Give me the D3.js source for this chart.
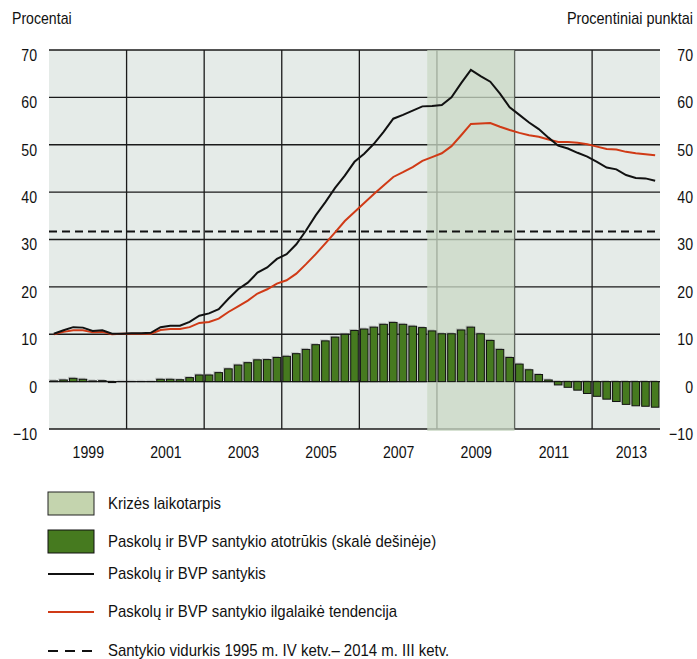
<!DOCTYPE html>
<html>
<head>
<meta charset="utf-8">
<script src="https://cdn.jsdelivr.net/npm/d3@7"></script>
<style>
  body { margin: 0; background: #fff; }
  svg { display: block; font-family: "Liberation Sans", Arial, sans-serif; }
  .tick text { font-size: 17px; fill: #111; }
</style>
</head>
<body>
<div id="chart"></div>
<script>
// quarterly data, 1999 I ketv. .. 2014 III ketv.
var startYear = 1999;
var gapBars = [0.15, 0.35, 0.7, 0.5, 0.15, 0.2, -0.2, 0.05, 0.05, 0.05, 0.05, 0.5, 0.5, 0.4, 0.85, 1.4,
  1.4, 1.9, 2.7, 3.5, 4.0, 4.6, 4.65, 5.1, 5.35, 5.9, 6.8, 7.8, 8.6, 9.4, 10.0, 10.8,
  11.1, 11.5, 12.1, 12.5, 12.1, 11.7, 11.4, 10.7, 10.1, 10.1, 10.9, 11.5, 10.1, 8.7, 6.8, 5.1,
  3.7, 2.5, 1.5, 0.35, -0.7, -1.2, -1.8, -2.5, -3.1, -3.7, -4.2, -4.8, -5.1, -5.2, -5.4];
var ratio = [10.1, 10.85, 11.5, 11.4, 10.7, 10.85, 10.1, 10.1, 10.2, 10.2, 10.3, 11.5, 11.8, 11.8, 12.6, 13.9,
  14.4, 15.3, 17.5, 19.5, 20.9, 23.0, 24.1, 25.9, 26.9, 29.0, 31.9, 35.1, 37.9, 40.9, 43.5, 46.4,
  48.1, 50.2, 52.7, 55.5, 56.3, 57.2, 58.1, 58.2, 58.4, 60.0, 63.0, 65.8, 64.5, 63.3, 60.8, 57.9,
  56.3, 54.7, 53.3, 51.5, 49.8, 49.2, 48.3, 47.5, 46.4, 45.2, 44.8, 43.6, 43.0, 42.9, 42.4];
var trend = [10.0, 10.5, 10.85, 10.85, 10.4, 10.5, 10.0, 10.1, 10.1, 10.1, 10.1, 10.9, 11.1, 11.1, 11.5, 12.4,
  12.6, 13.3, 14.7, 15.9, 17.1, 18.6, 19.5, 20.7, 21.4, 22.8, 24.8, 26.9, 29.2, 31.5, 33.9, 35.8,
  37.7, 39.6, 41.4, 43.2, 44.2, 45.3, 46.6, 47.4, 48.2, 49.7, 52.0, 54.4, 54.5, 54.6, 53.8, 53.1,
  52.5, 52.0, 51.7, 51.1, 50.6, 50.6, 50.4, 50.1, 49.6, 49.1, 49.0, 48.5, 48.2, 48.0, 47.8];
var averageRatio = 31.7;
var crisis = [2008.75, 2011.0];
var yearTicks = [1999, 2001, 2003, 2005, 2007, 2009, 2011, 2013];
var yTicks = [-10, 0, 10, 20, 30, 40, 50, 60, 70];
var legendLabels = [
  "Krizės laikotarpis",
  "Paskolų ir BVP santykio atotrūkis (skalė dešinėje)",
  "Paskolų ir BVP santykis",
  "Paskolų ir BVP santykio ilgalaikė tendencija",
  "Santykio vidurkis 1995 m. IV ketv.– 2014 m. III ketv."
];

var width = 697, height = 659;
var plotLeft = 49, plotRight = 660, plotTop = 50, plotBottom = 429;

var svg = d3.select("#chart").append("svg")
  .attr("width", width)
  .attr("height", height);

// condensed look: squeeze text horizontally
var squeeze = function(sel, k) {
  k = k || 0.83;
  sel.each(function() {
    var w = this.getComputedTextLength();
    d3.select(this).attr("textLength", w * k).attr("lengthAdjust", "spacingAndGlyphs");
  });
};

var x = d3.scaleLinear().domain([startYear, startYear + gapBars.length / 4]).range([plotLeft, plotRight]);
var y = d3.scaleLinear().domain([-10, 70]).range([plotBottom, plotTop]);
var qStart = function(i) { return startYear + i / 4; };
var qMid = function(i) { return startYear + (i + 0.5) / 4; };
var barW = (x(qStart(1)) - x(qStart(0))) * 0.78;

// plot background
svg.append("rect")
  .attr("x", plotLeft).attr("y", plotTop)
  .attr("width", plotRight - plotLeft).attr("height", plotBottom - plotTop)
  .attr("fill", "#e5ebe8");

// grid
svg.append("g").selectAll("line")
  .data(yTicks).enter().append("line")
  .attr("x1", plotLeft).attr("x2", plotRight)
  .attr("y1", function(d) { return y(d); }).attr("y2", function(d) { return y(d); })
  .attr("stroke", "#1a1a1a").attr("stroke-width", 1.3);
svg.append("g").selectAll("line")
  .data(yearTicks.slice(1)).enter().append("line")
  .attr("x1", function(d) { return x(d); }).attr("x2", function(d) { return x(d); })
  .attr("y1", plotTop).attr("y2", plotBottom)
  .attr("stroke", "#1a1a1a").attr("stroke-width", 1.3);

// crisis period
svg.append("rect")
  .attr("x", x(crisis[0])).attr("y", plotTop)
  .attr("width", x(crisis[1]) - x(crisis[0])).attr("height", plotBottom - plotTop + 2)
  .attr("fill", "rgb(203,217,197)").attr("fill-opacity", 0.76);

// bars (right scale, same range)
var bars = svg.append("g");
bars.selectAll(".shadow")
  .data(gapBars).enter().append("rect")
  .attr("class", "shadow")
  .attr("x", function(d, i) { return x(qMid(i)) - barW / 2 - 1.5; })
  .attr("y", function(d) { return Math.min(y(d), y(0)) - 1.5; })
  .attr("width", barW)
  .attr("height", function(d) { return Math.abs(y(d) - y(0)); })
  .attr("fill", "#777").attr("fill-opacity", 0.35);
bars.selectAll(".bar")
  .data(gapBars).enter().append("rect")
  .attr("class", "bar")
  .attr("x", function(d, i) { return x(qMid(i)) - barW / 2; })
  .attr("y", function(d) { return Math.min(y(d), y(0)); })
  .attr("width", barW)
  .attr("height", function(d) { return Math.abs(y(d) - y(0)); })
  .attr("fill", "#467a1f").attr("stroke", "#111").attr("stroke-width", 1);

// average dashed line
svg.append("line")
  .attr("x1", plotLeft).attr("x2", plotRight)
  .attr("y1", y(averageRatio)).attr("y2", y(averageRatio))
  .attr("stroke", "#111").attr("stroke-width", 2)
  .attr("stroke-dasharray", "8,5");

var line = d3.line()
  .x(function(d, i) { return x(qMid(i)); })
  .y(function(d) { return y(d); });

svg.append("path").datum(trend)
  .attr("d", line).attr("fill", "none")
  .attr("stroke", "#d03a16").attr("stroke-width", 2);
svg.append("path").datum(ratio)
  .attr("d", line).attr("fill", "none")
  .attr("stroke", "#111").attr("stroke-width", 2);

// axes
var yLeft = d3.axisLeft(y).tickValues(yTicks).tickSize(0).tickPadding(12);
svg.append("g").attr("transform", "translate(" + plotLeft + ",0)").call(yLeft)
  .call(function(g) { g.select(".domain").remove(); })
  .selectAll("text").attr("y", 5).call(squeeze);
var yRight = d3.axisRight(y).tickValues(yTicks).tickSize(0);
svg.append("g").attr("transform", "translate(" + plotRight + ",0)").call(yRight)
  .call(function(g) { g.select(".domain").remove(); })
  .selectAll("text").attr("x", 33).attr("y", 5).attr("text-anchor", "end").call(squeeze);

var xAxis = d3.axisBottom(x).tickValues(yearTicks.map(function(d) { return d + 1; }))
  .tickFormat(function(d) { return d - 1; }).tickSize(0).tickPadding(17);
svg.append("g").attr("transform", "translate(0," + plotBottom + ")").call(xAxis)
  .call(function(g) { g.select(".domain").remove(); })
  .selectAll("text").call(squeeze);

// unit labels
svg.append("text").attr("x", 12).attr("y", 24)
  .attr("font-size", 17).attr("fill", "#111").text("Procentai").call(squeeze);
svg.append("text").attr("x", 693).attr("y", 24).attr("text-anchor", "end")
  .attr("font-size", 17).attr("fill", "#111").text("Procentiniai punktai").call(squeeze, 0.85);

// legend
var legY = [504, 542, 574, 612, 651];
var leg = svg.append("g");
leg.append("rect").attr("x", 48).attr("y", legY[0] - 12).attr("width", 46).attr("height", 23)
  .attr("fill", "#c4d4ae").attr("stroke", "#222").attr("stroke-width", 1);
leg.append("rect").attr("x", 48).attr("y", legY[1] - 12).attr("width", 46).attr("height", 23)
  .attr("fill", "#467a1f").attr("stroke", "#111").attr("stroke-width", 1);
leg.append("line").attr("x1", 48).attr("x2", 94).attr("y1", legY[2]).attr("y2", legY[2])
  .attr("stroke", "#111").attr("stroke-width", 2);
leg.append("line").attr("x1", 48).attr("x2", 94).attr("y1", legY[3]).attr("y2", legY[3])
  .attr("stroke", "#d03a16").attr("stroke-width", 2);
leg.append("line").attr("x1", 48).attr("x2", 94).attr("y1", legY[4]).attr("y2", legY[4])
  .attr("stroke", "#111").attr("stroke-width", 2).attr("stroke-dasharray", "10,7");
leg.selectAll("text.leg")
  .data(legendLabels).enter().append("text")
  .attr("class", "leg")
  .attr("x", 108).attr("y", function(d, i) { return legY[i]; })
  .attr("dy", "0.3em").attr("font-size", 17).attr("fill", "#111")
  .text(function(d) { return d; })
  .call(squeeze, 0.88);
</script>
</body>
</html>
